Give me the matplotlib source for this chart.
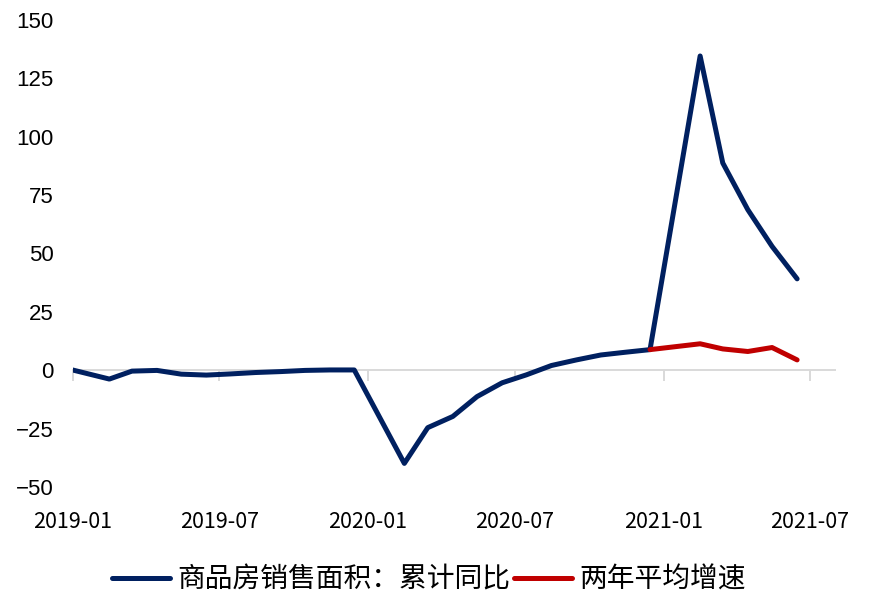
import numpy as np
import pandas as pd
import matplotlib
matplotlib.use("Agg")
import matplotlib.pyplot as plt
import matplotlib.dates as mdates

blue_months = ["2018-12",
               "2019-02", "2019-03", "2019-04", "2019-05", "2019-06", "2019-07",
               "2019-08", "2019-09", "2019-10", "2019-11", "2019-12",
               "2020-02", "2020-03", "2020-04", "2020-05", "2020-06", "2020-07",
               "2020-08", "2020-09", "2020-10", "2020-11", "2020-12",
               "2021-02", "2021-03", "2021-04", "2021-05", "2021-06"]
blue_values = [1.5,
               -3.8, -0.4, -0.1, -1.7, -2.1, -1.6,
               -1.0, -0.6, -0.1, 0.1, 0.1,
               -39.9, -24.6, -19.8, -11.3, -5.4, -2.0,
               2.0, 4.4, 6.5, 7.7, 8.8,
               134.5, 88.7, 68.7, 53.0, 39.1]
red_months = ["2020-12", "2021-02", "2021-03", "2021-04", "2021-05", "2021-06"]
red_values = [8.8, 11.3, 9.1, 8.0, 9.7, 4.4]
tick_labels = ["2019-01", "2019-07", "2020-01", "2020-07", "2021-01", "2021-07"]
y_ticks = [-50, -25, 0, 25, 50, 75, 100, 125, 150]
blue_name = "商品房销售面积：累计同比"
red_name = "两年平均增速"

cjk = ["Noto Sans CJK SC", "DejaVu Sans"]

# points sit in the middle of each month
def to_x(months):
    return mdates.date2num(pd.to_datetime(months) + pd.Timedelta(days=14))

fig = plt.figure(figsize=(8.75, 5.99), dpi=100)
ax = fig.add_axes([0.0834, 0.187, 0.871, 0.780])

ax.plot(to_x(blue_months), blue_values, color="#002060", lw=3.6,
        solid_capstyle="round", solid_joinstyle="round", label=blue_name, zorder=3)
ax.plot(to_x(red_months), red_values, color="#C00000", lw=3.6,
        solid_capstyle="round", solid_joinstyle="round", label=red_name, zorder=4)

xt = mdates.date2num(pd.to_datetime(tick_labels))
ax.set_xlim(xt[0], mdates.date2num(pd.Timestamp("2021-08-01")))
ax.set_ylim(-50, 150)

for s in ["top", "right", "left"]:
    ax.spines[s].set_visible(False)
ax.spines["bottom"].set_position(("data", 0))
ax.spines["bottom"].set_color("#d9d9d9")
ax.spines["bottom"].set_linewidth(1.4)
ax.spines["bottom"].set_zorder(1)
ax.set_xticks(xt)
ax.set_xticklabels([])
ax.tick_params(axis="x", direction="out", length=8, width=1.4, color="#d9d9d9")

ax.set_yticks(y_ticks)
ax.set_yticklabels([str(v).replace("-", "\u2212") for v in y_ticks],
                   fontfamily="Liberation Sans", fontsize=16)
ax.tick_params(axis="y", length=0, pad=14)

sec = ax.secondary_xaxis("bottom")
sec.set_xticks(xt)
sec.set_xticklabels(tick_labels, fontfamily=cjk, fontsize=15.5)
sec.tick_params(length=0, pad=17)
sec.spines["bottom"].set_visible(False)

fig.legend(loc="center", bbox_to_anchor=(0.49, 0.033), ncol=2, frameon=False,
           prop={"family": cjk, "size": 20}, handlelength=2.1,
           handletextpad=0.25, columnspacing=0.15)

fig.savefig("out.png", dpi=100)
